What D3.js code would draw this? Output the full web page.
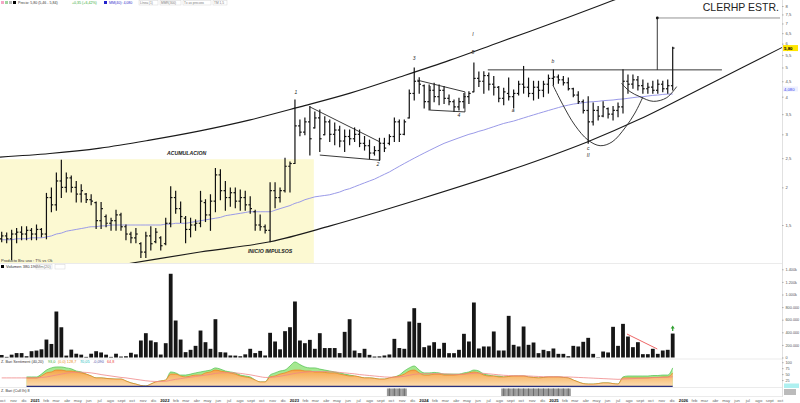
<!DOCTYPE html>
<html><head><meta charset="utf-8">
<script src="https://cdn.jsdelivr.net/npm/d3@7"></script>
<style>html,body{margin:0;padding:0;background:#fff;overflow:hidden}svg{display:block;font-family:"Liberation Sans",Arial,sans-serif}</style>
</head><body><svg id="c" width="800" height="403"></svg>
<script>
// ---------- DATA (bi-weekly bars, CLERHP ESTR.) ----------
const highs=[1.42,1.41,1.44,1.46,1.48,1.48,1.46,1.50,1.46,1.91,
1.99,2.23,2.46,2.23,2.18,2.09,2.04,1.91,1.89,1.79,
1.78,1.62,1.58,1.68,1.64,1.50,1.42,1.46,1.31,1.42,
1.48,1.46,1.37,1.58,2.01,1.94,1.79,1.60,1.58,1.56,
1.94,1.82,1.89,2.31,2.29,2.09,1.99,1.99,1.96,1.94,
1.86,1.68,1.62,1.50,2.07,2.07,1.99,2.50,2.43,3.90,
3.35,3.40,3.71,3.56,3.61,3.43,3.35,3.27,3.19,3.10,
3.10,3.15,3.10,2.95,2.87,2.73,2.91,2.91,2.99,3.40,
3.35,3.35,4.21,4.98,4.62,4.37,4.37,4.43,4.37,4.32,
4.05,3.90,3.95,4.10,4.15,5.17,4.83,4.84,4.79,4.67,
4.32,4.27,4.61,4.21,4.50,5.04,4.61,4.50,4.50,4.50,
4.72,4.91,4.72,4.67,4.61,4.27,4.15,3.90,4.00,3.81,
3.71,3.85,3.67,3.71,3.81,4.91,4.72,4.72,4.67,4.54,
4.43,4.50,4.54,4.50,4.54,5.84];
const lows=[1.32,1.31,1.15,1.31,1.34,1.34,1.34,1.34,1.37,1.35,
1.66,1.68,1.85,1.93,1.93,1.79,1.79,1.78,1.75,1.46,
1.46,1.48,1.44,1.44,1.44,1.34,1.31,1.31,1.17,1.17,
1.24,1.31,1.24,1.29,1.48,1.64,1.53,1.31,1.37,1.44,
1.48,1.54,1.44,1.66,1.82,1.68,1.73,1.71,1.68,1.68,
1.64,1.44,1.44,1.41,1.32,1.71,1.79,1.93,1.93,2.40,
2.97,2.99,2.56,3.15,2.63,2.99,2.84,2.77,2.73,2.63,
2.77,2.84,2.73,2.66,2.49,2.56,2.46,2.63,2.77,2.84,
2.84,2.99,3.40,3.90,4.11,3.67,3.61,3.85,3.76,3.80,
3.76,3.57,3.61,3.67,3.80,4.15,4.32,4.11,4.21,4.05,
3.85,3.76,3.90,3.67,4.05,4.11,4.00,3.90,3.95,4.00,
4.11,4.37,4.43,4.37,4.21,4.00,3.80,3.53,2.80,3.22,
3.35,3.43,3.40,3.35,3.43,3.53,4.11,4.27,4.21,4.11,
4.11,4.11,4.11,4.15,4.11,4.21];
const opens=[1.35,1.38,1.35,1.40,1.42,1.40,1.44,1.40,1.45,1.40,
1.85,1.75,2.10,2.00,2.15,2.00,1.90,1.90,1.82,1.78,
1.55,1.60,1.52,1.55,1.62,1.48,1.40,1.36,1.30,1.22,
1.38,1.32,1.36,1.30,1.52,1.85,1.70,1.58,1.45,1.50,
1.52,1.78,1.62,1.80,2.20,1.95,1.85,1.92,1.80,1.85,
1.75,1.66,1.50,1.48,1.44,1.95,1.85,1.95,2.35,2.40,
3.20,3.05,3.30,3.15,3.40,2.99,3.30,3.00,3.10,2.85,
2.95,2.90,3.00,2.80,2.75,2.60,2.65,2.80,2.80,2.95,
3.30,3.00,3.40,4.10,4.50,4.35,3.85,4.20,4.00,4.20,
3.95,3.85,3.70,3.85,4.00,4.15,4.60,4.50,4.70,4.40,
4.30,3.95,4.10,4.00,4.10,4.40,4.30,4.10,4.30,4.20,
4.40,4.60,4.65,4.55,4.45,4.25,4.05,3.85,3.60,3.30,
3.60,3.45,3.65,3.50,3.60,3.70,4.50,4.40,4.55,4.35,
4.25,4.30,4.20,4.40,4.25,4.35];
const closes=[1.38,1.35,1.40,1.42,1.40,1.44,1.40,1.45,1.40,1.85,
1.75,2.10,2.00,2.15,2.00,1.90,1.95,1.82,1.80,1.55,
1.70,1.52,1.55,1.62,1.48,1.40,1.36,1.40,1.22,1.38,
1.30,1.42,1.28,1.52,1.85,1.70,1.60,1.45,1.50,1.52,
1.80,1.62,1.80,2.20,1.95,1.85,1.92,1.80,1.85,1.75,
1.70,1.50,1.48,1.44,1.95,1.85,1.95,2.35,2.40,3.20,
3.05,3.30,2.90,3.40,2.90,3.30,3.00,3.10,2.85,2.95,
2.90,3.00,2.80,2.75,2.60,2.65,2.80,2.70,2.95,3.30,
3.00,3.30,4.10,4.50,4.40,3.85,4.20,4.00,4.20,3.95,
3.85,3.70,3.85,4.00,4.10,4.60,4.50,4.70,4.40,4.30,
3.95,4.15,4.00,4.10,4.40,4.30,4.10,4.30,4.20,4.40,
4.60,4.65,4.55,4.45,4.25,4.05,3.85,3.60,3.30,3.60,
3.45,3.70,3.50,3.60,3.70,4.50,4.40,4.55,4.35,4.25,
4.30,4.20,4.40,4.25,4.35,5.80];
const ma40=[1.34,1.34,1.34,1.35,1.35,1.35,1.36,1.36,1.36,1.37,
1.38,1.40,1.41,1.43,1.44,1.45,1.46,1.47,1.48,1.48,
1.49,1.49,1.50,1.50,1.50,1.50,1.50,1.50,1.50,1.50,
1.50,1.50,1.50,1.51,1.51,1.52,1.52,1.52,1.53,1.54,
1.55,1.56,1.57,1.58,1.59,1.61,1.62,1.63,1.64,1.65,
1.66,1.66,1.66,1.66,1.66,1.68,1.70,1.72,1.74,1.77,
1.79,1.82,1.84,1.86,1.87,1.88,1.89,1.91,1.93,1.96,
1.98,2.01,2.04,2.07,2.10,2.13,2.17,2.21,2.25,2.30,
2.35,2.40,2.45,2.50,2.55,2.60,2.65,2.70,2.75,2.80,
2.84,2.88,2.92,2.96,3.00,3.03,3.07,3.10,3.14,3.18,
3.22,3.26,3.29,3.32,3.36,3.40,3.44,3.48,3.52,3.56,
3.60,3.64,3.68,3.72,3.75,3.78,3.80,3.82,3.84,3.85,
3.86,3.88,3.89,3.90,3.92,3.93,3.95,3.97,3.99,4.00,
4.02,4.04,4.05,4.07,4.08,4.08];
const volumes=[40,10,45,70,70,20,100,110,130,285,
215,730,480,30,125,60,45,10,60,100,
80,45,10,60,15,20,75,50,270,386,
270,243,47,227,1329,587,285,85,122,185,
428,243,138,608,85,80,32,30,20,50,
138,70,105,32,392,254,130,418,481,889,
270,227,280,138,386,150,150,150,70,407,
608,110,70,138,42,15,18,32,48,296,
150,138,571,783,550,164,190,243,138,233,
69,69,122,376,254,873,143,175,175,413,
111,111,661,201,175,492,201,238,69,122,
101,143,58,58,21,185,175,249,312,58,
5,95,80,487,185,534,333,164,243,53,
53,138,58,111,122,380].map(v=>v*1000);
const sentOrange=[null,null,null,null,null,34,34,34,42,55,
59,67,67,63,63,59,55,50,42,34,
34,32,30,29,29,21,13,8,2,0,
8,17,21,25,50,50,42,38,42,46,
46,55,59,67,63,59,55,50,42,38,
34,25,17,17,38,42,50,55,63,67,
67,63,63,59,59,57,55,55,50,46,
42,42,38,34,34,32,29,29,34,38,
42,50,63,67,55,46,46,50,50,46,
46,46,48,50,55,59,55,46,42,42,
38,38,40,42,42,42,38,36,34,36,
38,38,38,36,34,25,17,10,8,8,
10,13,13,10,8,34,34,34,34,34,
34,36,36,38,38,55];
const sentGreen=[null,null,null,null,null,38,38,38,50,67,
76,80,80,76,72,63,59,50,42,34,
34,32,30,29,29,21,13,8,2,0,
8,17,21,25,59,55,46,46,50,55,
59,63,67,76,71,63,59,55,46,42,
38,25,17,17,46,55,63,67,84,101,
90,80,76,76,71,67,63,59,55,50,
46,42,38,34,34,32,29,29,34,38,
46,63,76,84,67,55,55,57,55,50,
50,50,50,55,59,67,63,50,46,42,
42,38,40,42,42,42,38,36,34,36,
38,38,38,36,34,25,17,10,8,8,
10,13,13,10,8,38,42,42,42,42,
42,44,44,46,46,76];
const sentSignal=[34,34,34,34,34,34,34,34,36,38,
42,46,50,54,57,58,58,57,55,52,
48,45,42,39,36,34,31,28,25,22,
20,19,19,20,24,28,31,34,37,40,
43,46,49,53,55,56,56,55,53,50,
47,43,39,36,36,38,41,45,49,53,
56,58,60,61,61,61,60,59,57,55,
53,51,48,46,44,42,40,38,37,37,
38,41,45,49,51,52,52,52,52,51,
50,49,49,50,51,53,54,53,51,49,
47,45,44,43,43,43,42,41,40,39,
39,39,39,38,38,37,36,35,34,33,
32,31,30,29,28,29,30,31,32,33,
34,35,36,36,37,39];
const grayBlocks=[[78,81],[101,114]];
const priceTicks=[8,7.5,7,6.5,6,5.5,5,4.5,4,3.5,3,2.5,2,1.5];
const volumeTicks=[0,200000,400000,600000,800000,1000000,1200000,1400000];
const volumeTickLabels=["0","200.000","400.000","600.000","800.000","1.000k","1.200k","1.400k"];
const sentTicks=[25,50,75,100];
const monthNames=["ene","feb","mar","abr","may","jun","jul","ago","sept","oct","nov","dic"];
// annotations, as [bar index, price]
const upperChannel=[[-0.34,2.52],[9.7,2.59],[19.8,2.70],[29.8,2.87],[39.9,3.08],[50,3.35],[60,3.70],[70.1,4.11],[80.1,4.65],[90.2,5.29],[100.3,6.08],[110.3,6.97],[120.3,8.03],[126.4,8.77]];
const lowerChannel=[[18.8,1.07],[39.9,1.22],[54,1.32],[66.1,1.49],[84.2,1.83],[102.9,2.30],[117.8,2.83],[128.4,3.37],[142.5,4.41],[158,5.94]];
const triangle=[[62,3.70],[76.1,2.83],[76.1,2.46],[64,2.56]];
const flagBox=[[83.6,4.54],[93.2,4.15],[93.2,3.56],[86.2,3.61],[86.2,4.34]];
const resistance=[[97.8,4.91],[144.9,4.91]];
const targetUp=[[131.9,4.91],[131.9,7.30]];
const targetLevel=[[131.9,7.30],[156.6,7.30]];
const cupArc=[[110.9,4.37],[112.9,3.76],[115.3,3.22],[117.97,2.87],[120.4,2.75],[122.8,2.83],[125.4,3.15],[127.4,3.53],[129.0,3.99]];
const handleArc=[[124.7,4.43],[126.4,4.16],[128.4,4.00],[131.1,3.86],[133.8,3.97],[135.8,4.32]];
const waveLabels=[["1",59.2,4.09],["2",75.7,2.35],["3",83,5.29],["4",92,3.43],["5",94.8,5.53],["I",94.8,6.34],["a",102.9,3.56],["b",110.9,5.17],["c",118,2.66],["II",118,2.52]];
const accumZone={from:-1,to:62.8,top:2.48};
const volTrend=[[125.8,373000],[131.9,135000]];

// ---------- SCALES ----------
const svg=d3.select('#c');
const N=highs.length;
const firstBarDate=new Date(2020,8,30);
const barDates=d3.range(N).map(i=>d3.timeDay.offset(firstBarDate,14*i));
const xIdx=d3.scaleLinear().domain([0,N-1]).range([1.7,672.7]);
const xTime=d3.scaleTime().domain([barDates[0],barDates[N-1]]).range([1.7,672.7]);
const yP=d3.scaleLog().domain([1.5,8]).range([225,6]);
const yV=d3.scaleLinear().domain([0,1400000]).range([357.5,269.3]);
const yS=d3.scaleLinear().domain([0,105]).range([386,361]);
const AX=782;
const fmtC=d=>String(d).replace('.',',');

const defs=svg.append('defs');
defs.append('clipPath').attr('id','cp').append('rect').attr('x',0).attr('y',0).attr('width',AX).attr('height',263);
const grad=defs.append('linearGradient').attr('id','og').attr('x1',0).attr('x2',0).attr('y1',0).attr('y2',1);
grad.append('stop').attr('offset','0%').attr('stop-color','#f5a447');
grad.append('stop').attr('offset','100%').attr('stop-color','#fcdcae');

// ---------- PRICE PANEL ----------
const gp=svg.append('g').attr('clip-path','url(#cp)');
gp.append('rect').attr('x',xIdx(accumZone.from)).attr('y',yP(accumZone.top))
  .attr('width',xIdx(accumZone.to)-xIdx(accumZone.from)).attr('height',263-yP(accumZone.top)).attr('fill','#fcf9d2');
const ptLine=d3.line().x(d=>xIdx(d[0])).y(d=>yP(d[1]));
gp.append('path').attr('d',d3.line().x((d,i)=>xIdx(i)).y(d=>yP(d)).curve(d3.curveMonotoneX)(ma40))
  .attr('fill','none').attr('stroke','#9a9ae8').attr('stroke-width',1);
const curveLine=d3.line().x(d=>xIdx(d[0])).y(d=>yP(d[1])).curve(d3.curveCatmullRom);
[upperChannel,lowerChannel].forEach(c=>gp.append('path').attr('d',curveLine(c)).attr('fill','none').attr('stroke','#1a1a1a').attr('stroke-width',1.1));
// bars
const gb=gp.append('g').attr('stroke','#111').attr('stroke-width',1.2);
gb.selectAll('line.hl').data(d3.range(N)).join('line').attr('class','hl')
  .attr('x1',i=>xIdx(i)).attr('x2',i=>xIdx(i)).attr('y1',i=>yP(highs[i])-0.5).attr('y2',i=>yP(lows[i])+0.5);
gb.selectAll('line.op').data(d3.range(N)).join('line').attr('class','op')
  .attr('x1',i=>xIdx(i)-1.8).attr('x2',i=>xIdx(i)).attr('y1',i=>yP(opens[i])).attr('y2',i=>yP(opens[i]));
gb.selectAll('line.cl').data(d3.range(N)).join('line').attr('class','cl')
  .attr('x1',i=>xIdx(i)).attr('x2',i=>xIdx(i)+1.8).attr('y1',i=>yP(closes[i])).attr('y2',i=>yP(closes[i]));
// annotations
[triangle,flagBox,resistance,targetUp].forEach(c=>gp.append('path').attr('d',ptLine(c)).attr('fill','none').attr('stroke','#222').attr('stroke-width',0.9));
gp.append('path').attr('d',ptLine(targetLevel)).attr('fill','none').attr('stroke','#777').attr('stroke-width',0.8);
gp.append('circle').attr('cx',xIdx(targetUp[1][0])).attr('cy',yP(targetUp[1][1])).attr('r',1.4).attr('fill','#111');
[cupArc,handleArc].forEach(c=>gp.append('path').attr('d',curveLine(c)).attr('fill','none').attr('stroke','#222').attr('stroke-width',0.9));
gp.selectAll('text.w').data(waveLabels).join('text').attr('class','w')
  .attr('x',d=>xIdx(d[1])).attr('y',d=>yP(d[2])).attr('text-anchor','middle')
  .attr('font-size',5).attr('font-style','italic').style('fill','#222').text(d=>d[0]);
gp.append('text').attr('x',xIdx(37.2)).attr('y',yP(2.56)).attr('text-anchor','middle').attr('font-size',5.2)
  .attr('font-weight','bold').attr('font-style','italic').attr('fill','#222').text('ACUMULACION');
gp.append('text').attr('x',xIdx(54)).attr('y',yP(1.21)).attr('text-anchor','middle').attr('font-size',5.2)
  .attr('font-weight','bold').attr('font-style','italic').attr('fill','#222').text('INICIO IMPULSOS');

// title
svg.append('text').attr('x',779).attr('y',11).attr('text-anchor','end').attr('font-size',10.5).attr('fill','#222').text('CLERHP ESTR.');

// top header
const hdr=svg.append('g').attr('font-size',3.6).attr('fill','#333');
[['#f4a6c6',1],['#9fd39f',5],['#bbbbbb',9]].forEach(s=>hdr.append('rect').attr('x',s[1]).attr('y',1).attr('width',3).attr('height',3).attr('fill',s[0]));
hdr.append('rect').attr('x',13).attr('y',1).attr('width',3).attr('height',3).attr('fill','#000');
hdr.append('text').attr('x',18).attr('y',4).text('Precio: 5,80 (5,46 - 5,84)');
hdr.append('text').attr('x',72).attr('y',4).attr('fill','#3a3').text('+0,35 (+6,42%)');
hdr.append('rect').attr('x',104).attr('y',1).attr('width',3).attr('height',3).attr('fill','#22c');
hdr.append('text').attr('x',109).attr('y',4).attr('fill','#33c').text('MM(40): 4,080');
[['Línea (1)',140,17],['MMR(300)',161,19],['Tx as precoss',184,26],['TM 1,5',214,12]].forEach(s=>{
  hdr.append('rect').attr('x',s[1]-1).attr('y',0.5).attr('width',s[2]+2).attr('height',4.5).attr('fill','none').attr('stroke','#ccc').attr('stroke-width',0.4);
  hdr.append('text').attr('x',s[1]).attr('y',4).attr('fill','#777').attr('font-size',3.2).text(s[0]);});

// separators & right axis line
[263.5,359,387.5,396.5].forEach(y=>svg.append('line').attr('x1',0).attr('x2',AX).attr('y1',y).attr('y2',y).attr('stroke','#ddd').attr('stroke-width',0.6));
svg.append('line').attr('x1',AX+0.5).attr('x2',AX+0.5).attr('y1',0).attr('y2',397).attr('stroke','#ccc').attr('stroke-width',0.6);

// price axis
const pa=svg.append('g').attr('transform',`translate(${AX},0)`)
  .call(d3.axisRight(yP).tickValues(priceTicks).tickSize(1.5).tickPadding(2).tickFormat(fmtC));
pa.select('.domain').remove();
pa.selectAll('text').attr('font-size',4.2).attr('fill','#555').attr('font-family','Liberation Sans, Arial');
pa.selectAll('line').attr('stroke','#aaa');
const lastY=yP(closes[N-1]);
svg.append('rect').attr('x',AX+1).attr('y',lastY-3).attr('width',15).attr('height',6).attr('fill','#ffe500');
svg.append('text').attr('x',AX+2).attr('y',lastY+1.6).attr('font-size',4.4).attr('font-weight','bold').attr('fill','#000').text(fmtC(closes[N-1].toFixed(2)));
const maY=yP(ma40[N-1])-5;
svg.append('rect').attr('x',AX+1).attr('y',maY-2.6).attr('width',15).attr('height',5).attr('fill','#eef0ff');
svg.append('text').attr('x',AX+2).attr('y',maY+1.5).attr('font-size',4.2).attr('fill','#3344ee').text('4,080');

// ---------- VOLUME PANEL ----------
const vh=svg.append('g').attr('font-size',4).attr('fill','#333');
vh.append('text').attr('x',1).attr('y',262).text('Producto Bru uso : T% vs Ok');
vh.append('rect').attr('x',1).attr('y',265).attr('width',3).attr('height',3).attr('fill','#000');
vh.append('text').attr('x',6).attr('y',268).text('Volumen 380.196');
vh.append('rect').attr('x',36).attr('y',264.5).attr('width',16).attr('height',4.5).attr('fill','none').attr('stroke','#ccc').attr('stroke-width',0.4);
vh.append('text').attr('x',37).attr('y',268).attr('fill','#777').text('Mm(20)');
vh.append('rect').attr('x',55).attr('y',264.5).attr('width',10).attr('height',4.5).attr('fill','none').attr('stroke','#ccc').attr('stroke-width',0.4);
svg.append('g').selectAll('rect').data(volumes).join('rect')
  .attr('x',(d,i)=>xIdx(i)-1.9).attr('width',3.8).attr('y',d=>yV(d)).attr('height',d=>yV(0)-yV(d)).attr('fill','#161616');
svg.append('path').attr('d',d3.line().x(d=>xIdx(d[0])).y(d=>yV(d[1]))(volTrend)).attr('stroke','#ee6666').attr('stroke-width',1).attr('fill','none');
const ax=xIdx(N-1), ay=yV(volumes[N-1])-5;
svg.append('path').attr('d',`M${ax-2},${ay} L${ax},${ay-3} L${ax+2},${ay} Z M${ax-0.6},${ay} h1.2 v2.5 h-1.2 Z`).attr('fill','#2e9e2e');
const va=svg.append('g').attr('transform',`translate(${AX},0)`)
  .call(d3.axisRight(yV).tickValues(volumeTicks).tickSize(1.5).tickPadding(2).tickFormat((d,i)=>volumeTickLabels[i]));
va.select('.domain').remove();
va.selectAll('text').attr('font-size',3.8).attr('fill','#555').attr('font-family','Liberation Sans, Arial');
va.selectAll('line').attr('stroke','#aaa');

// ---------- SENTIMENT PANEL ----------
const sh=svg.append('g').attr('font-size',3.8);
sh.append('text').attr('x',1).attr('y',363).attr('fill','#333').text('Z. Bari Sentiment (40,20)');
sh.append('text').attr('x',48).attr('y',363).attr('fill','#3a3').text('93,0');
sh.append('text').attr('x',58).attr('y',363).attr('fill','#e88a1a').text('(0,0) 128,7');
sh.append('text').attr('x',80).attr('y',363).attr('fill','#1bb').text('70,05');
sh.append('text').attr('x',93).attr('y',363).attr('fill','#55a').text('-0,090');
sh.append('text').attr('x',107).attr('y',363).attr('fill','#e44').text('64,8');
const areaG=d3.area().defined(d=>d!=null).x((d,i)=>xIdx(i)).y0(yS(0)).y1(d=>yS(d)).curve(d3.curveMonotoneX);
const lineS=d3.line().defined(d=>d!=null).x((d,i)=>xIdx(i)).y(d=>yS(d)).curve(d3.curveMonotoneX);
svg.append('path').attr('d',areaG(sentGreen)).attr('fill','#a5e890');
svg.append('path').attr('d',lineS(sentGreen)).attr('fill','none').attr('stroke','#4cbf4c').attr('stroke-width',0.7);
svg.append('path').attr('d',areaG(sentOrange)).attr('fill','url(#og)');
svg.append('path').attr('d',lineS(sentOrange)).attr('fill','none').attr('stroke','#ee7d1c').attr('stroke-width',0.7);
svg.append('path').attr('d',lineS(sentSignal)).attr('fill','none').attr('stroke','#f08888').attr('stroke-width',0.8);
svg.append('line').attr('x1',xIdx(5)).attr('x2',xIdx(N-1)).attr('y1',yS(0)+0.4).attr('y2',yS(0)+0.4).attr('stroke','#28307e').attr('stroke-width',1.2);
const sa=svg.append('g').attr('transform',`translate(${AX},0)`)
  .call(d3.axisRight(yS).tickValues(sentTicks).tickSize(1.5).tickPadding(2));
sa.select('.domain').remove();
sa.selectAll('text').attr('font-size',3.8).attr('fill','#555').attr('font-family','Liberation Sans, Arial');
sa.selectAll('line').attr('stroke','#aaa');
svg.append('rect').attr('x',AX+2).attr('y',yS(0)-2.5).attr('width',15).attr('height',4.5).attr('fill','#aef0f0');

// ---------- GRAY SIGNAL PANEL ----------
svg.append('text').attr('x',1).attr('y',391.5).attr('font-size',3.8).attr('fill','#333').text('Z. Bari (Cull Ih) 8');
const gg=svg.append('g');
grayBlocks.forEach(([a,b])=>{
  d3.range(a,b+1).forEach(i=>{
    gg.append('rect').attr('x',xIdx(i)-2.5).attr('y',388.5).attr('width',5).attr('height',7.5).attr('fill','#9a9a9a');
    gg.append('line').attr('x1',xIdx(i)).attr('x2',xIdx(i)).attr('y1',388.5).attr('y2',396).attr('stroke','#6a6a6a').attr('stroke-width',1);
  });
});
svg.append('rect').attr('x',AX+2).attr('y',389).attr('width',12).attr('height',6).attr('fill','#bbb');

// ---------- TIME AXIS ----------
const monthTicks=d3.timeMonth.range(new Date(2020,9,1),new Date(2026,9,2));
const ta=svg.append('g').attr('transform','translate(0,397)')
  .call(d3.axisBottom(xTime).tickValues(monthTicks).tickSize(0).tickPadding(2.5)
    .tickFormat(d=>d.getMonth()===0?String(d.getFullYear()):monthNames[d.getMonth()]));
ta.select('.domain').remove();
ta.selectAll('text').attr('font-size',4.2).attr('font-family','Liberation Sans, Arial')
  .attr('fill',d=>d.getMonth()===0?'#111':'#666').attr('font-weight',d=>d.getMonth()===0?'bold':'normal');
</script></body></html>
